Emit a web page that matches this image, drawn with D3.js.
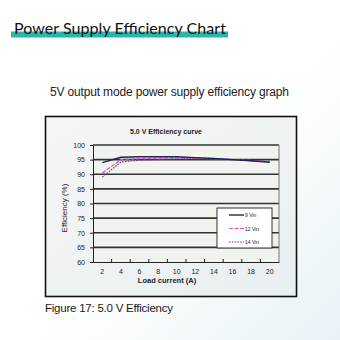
<!DOCTYPE html>
<html>
<head>
<meta charset="utf-8">
<script src="https://cdn.jsdelivr.net/npm/d3@7"></script>
<style>
  body { margin: 0; background: #fff; }
  svg { display: block; }
</style>
</head>
<body>
<div id="chart"></div>
<script>
// chart values
var loads = [2, 4, 6, 8, 10, 12, 14, 16, 18, 20];
var vin9 = [94.0, 95.8, 96.0, 96.0, 96.0, 95.7, 95.4, 95.0, 94.6, 94.1];
var vin12 = [90.4, 95.0, 95.3, 95.5, 95.6, 95.6, 95.3, 95.0, 94.7, 94.3];
var vin14 = [89.0, 94.2, 94.8, 95.0, 95.3, 95.4, 95.2, 95.0, 94.6, 94.3];
var yTicks = [60, 65, 70, 75, 80, 85, 90, 95, 100];
var seriesNames = ["9 Vin", "12 Vin", "14 Vin"];

var series = [
  {name: seriesNames[0], values: vin9, color: "#1c2456", dash: null, width: 1.4},
  {name: seriesNames[1], values: vin12, color: "#d24fc8", dash: "4,1.5", width: 1.2},
  {name: seriesNames[2], values: vin14, color: "#7a3a78", dash: "1.6,1.2", width: 1.1}
];

const svg = d3.select("#chart").append("svg")
  .attr("width", 340)
  .attr("height", 340);

const defs = svg.append("defs");
const bg = defs.append("linearGradient").attr("id", "pagebg")
  .attr("x1", "0").attr("y1", "0").attr("x2", "1").attr("y2", "1");
bg.append("stop").attr("offset", "0.55").attr("stop-color", "#ffffff");
bg.append("stop").attr("offset", "1").attr("stop-color", "#e8f2f6");

const boxbg = defs.append("linearGradient").attr("id", "boxbg")
  .attr("x1", "0").attr("y1", "0").attr("x2", "1").attr("y2", "1");
boxbg.append("stop").attr("offset", "0").attr("stop-color", "#f6f6f4");
boxbg.append("stop").attr("offset", "1").attr("stop-color", "#e8eff1");

svg.append("rect").attr("width", 340).attr("height", 340).attr("fill", "url(#pagebg)");

// heading with teal underline
svg.append("rect")
  .attr("x", 11).attr("y", 31.5).attr("width", 217).attr("height", 6)
  .attr("fill", "#2cb4aa");
svg.append("text")
  .attr("x", 14).attr("y", 33.5)
  .attr("font-family", "Lato, 'Noto Sans', sans-serif")
  .attr("font-size", 16)
  .attr("textLength", 212)
  .attr("fill", "#111")
  .text("Power Supply Efficiency Chart");

svg.append("text")
  .attr("x", 50).attr("y", 96)
  .attr("font-family", "'Liberation Sans', Arial, sans-serif")
  .attr("font-size", 12)
  .attr("textLength", 239)
  .attr("fill", "#222")
  .text("5V output mode power supply efficiency graph");

// chart frame
svg.append("rect")
  .attr("x", 45.5).attr("y", 116.5).attr("width", 251).attr("height", 180)
  .attr("fill", "url(#boxbg)")
  .attr("stroke", "#111").attr("stroke-width", 1.6);

svg.append("text")
  .attr("x", 45).attr("y", 312)
  .attr("font-family", "'Liberation Sans', Arial, sans-serif")
  .attr("font-size", 11.5)
  .attr("textLength", 128)
  .attr("fill", "#1a1a1a")
  .text("Figure 17: 5.0 V Efficiency");

const margin = {left: 93, top: 145, right: 279, bottom: 262};

const x = d3.scaleBand()
  .domain(loads)
  .range([margin.left, margin.right]);

const y = d3.scaleLinear()
  .domain([60, 100])
  .range([margin.bottom, margin.top]);

const g = svg.append("g");

// plot area
g.append("rect")
  .attr("x", margin.left).attr("y", margin.top)
  .attr("width", margin.right - margin.left)
  .attr("height", margin.bottom - margin.top)
  .attr("fill", "#f1f3ef");

g.append("text")
  .attr("x", 166).attr("y", 134)
  .attr("text-anchor", "middle")
  .attr("font-family", "'Liberation Sans', Arial, sans-serif")
  .attr("font-size", 7)
  .attr("font-weight", "bold")
  .attr("fill", "#222")
  .text("5.0 V Efficiency curve");

// gridlines
g.append("g")
  .selectAll("line")
  .data(yTicks.slice(1))
  .enter()
  .append("line")
  .attr("x1", margin.left).attr("x2", margin.right)
  .attr("y1", d => y(d)).attr("y2", d => y(d))
  .attr("stroke", "#333")
  .attr("stroke-width", 1.7);

g.append("line")
  .attr("x1", margin.right).attr("x2", margin.right)
  .attr("y1", margin.top).attr("y2", margin.bottom)
  .attr("stroke", "#777").attr("stroke-width", 1);

// axes
const yAxis = g.append("g")
  .attr("transform", `translate(${margin.left},0)`)
  .call(d3.axisLeft(y).tickValues(yTicks).tickSize(3).tickPadding(5));
const xAxis = g.append("g")
  .attr("transform", `translate(0,${margin.bottom})`)
  .call(d3.axisBottom(x).tickSize(0).tickPadding(7));

[yAxis, xAxis].forEach(function(a) {
  a.select(".domain").attr("stroke", "#222").attr("stroke-width", 1);
  a.selectAll("text")
    .attr("font-family", "'Liberation Sans', Arial, sans-serif")
    .attr("font-size", 7)
    .attr("fill", "#222");
});
yAxis.selectAll(".tick line").attr("stroke", "#222");

// small ticks between categories
g.append("g")
  .selectAll("line")
  .data(loads.slice(1))
  .enter()
  .append("line")
  .attr("x1", d => x(d)).attr("x2", d => x(d))
  .attr("y1", margin.bottom).attr("y2", margin.bottom - 3)
  .attr("stroke", "#222");

g.append("text")
  .attr("x", 167).attr("y", 283)
  .attr("text-anchor", "middle")
  .attr("font-family", "'Liberation Sans', Arial, sans-serif")
  .attr("font-size", 7.5)
  .attr("font-weight", "bold")
  .attr("fill", "#222")
  .text("Load current (A)");

g.append("text")
  .attr("transform", "translate(67,208) rotate(-90)")
  .attr("text-anchor", "middle")
  .attr("font-family", "'Liberation Sans', Arial, sans-serif")
  .attr("font-size", 8)
  .attr("fill", "#222")
  .text("Efficiency (%)");

// curves
const line = d3.line()
  .x((d, i) => x(loads[i]) + x.bandwidth() / 2)
  .y(d => y(d));

g.append("g")
  .selectAll("path")
  .data(series.slice().reverse())
  .enter()
  .append("path")
  .attr("d", d => line(d.values))
  .attr("fill", "none")
  .attr("stroke", d => d.color)
  .attr("stroke-width", d => d.width)
  .attr("stroke-dasharray", d => d.dash);

// legend
const lg = g.append("g").attr("transform", "translate(217,208)");
lg.append("rect")
  .attr("width", 55).attr("height", 40)
  .attr("fill", "#fff")
  .attr("stroke", "#333").attr("stroke-width", 1);
const items = lg.selectAll("g.item")
  .data(series)
  .enter()
  .append("g")
  .attr("class", "item")
  .attr("transform", (d, i) => `translate(0,${7 + i * 13.5})`);
items.append("line")
  .attr("x1", 12).attr("x2", 27)
  .attr("stroke", d => d.color)
  .attr("stroke-width", d => d.width)
  .attr("stroke-dasharray", d => d.dash);
items.append("text")
  .attr("x", 28).attr("y", 2)
  .attr("font-family", "'Liberation Sans', Arial, sans-serif")
  .attr("font-size", 5)
  .attr("fill", "#222")
  .text(d => d.name);
</script>
</body>
</html>
